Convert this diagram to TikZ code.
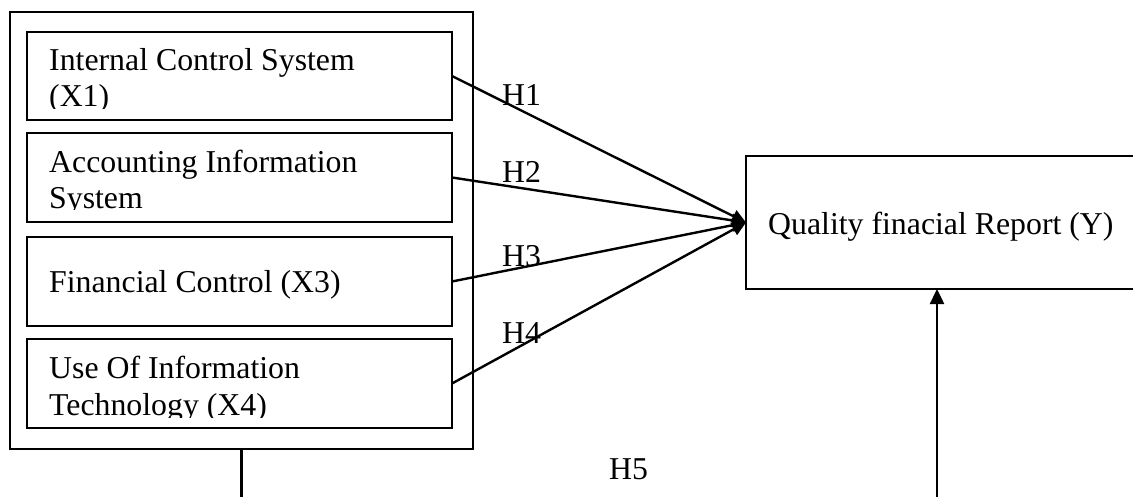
\documentclass[tikz,border=0pt]{standalone}
\usepackage{fontspec}
\setmainfont{Liberation Serif}
\usetikzlibrary{arrows.meta}
\begin{document}
\begin{tikzpicture}[x=1pt,y=-1pt,
  box/.style={draw, line width=2.6pt, inner sep=0pt, outer sep=0pt},
  txt/.style={anchor=base west, inner sep=0pt, font=\fontsize{31.8}{36}\selectfont},
  conn/.style={line width=2.4pt},
  hyp/.style={conn, -{Triangle[length=14pt,width=13pt]}},
  uparrow/.style={conn, -{Triangle[length=15pt,width=14pt]}}]
\useasboundingbox (0,0) rectangle (1133,497);
\clip (0,0) rectangle (1133,497);
% boxes
\node[box, minimum width=463pt, minimum height=437pt] (outer) at (241.5,230.5) {};
\node[box, minimum width=425pt, minimum height=88pt] (b1) at (239.5,76) {};
\node[box, minimum width=425pt, minimum height=89pt] (b2) at (239.5,177.5) {};
\node[box, minimum width=425pt, minimum height=89pt] (b3) at (239.5,281.5) {};
\node[box, minimum width=425pt, minimum height=89pt] (b4) at (239.5,383.5) {};
\node[box, minimum width=434pt, minimum height=133pt] (Y) at (963,222.5) {};
% texts
\begin{scope}
\clip (28,33) rectangle (451,109);
\node[txt] (t1a) at (49,71) {Internal Control System};
\node[txt] (t1b) at (49,107) {(X1)};
\end{scope}
\begin{scope}
\clip (28,134) rectangle (451,210);
\node[txt] (t2a) at (49,173) {Accounting Information};
\node[txt] (t2b) at (49,209) {System};
\end{scope}
\node[txt] (t3) at (49,293) {Financial Control (X3)};
\begin{scope}
\clip (28,340) rectangle (451,417);
\node[txt] (t4a) at (49,378) {Use Of Information};
\node[txt] (t4b) at (49,415) {Technology (X4)};
\end{scope}
\node[txt] (ty) at (768,235) {Quality finacial Report (Y)};
% connectors
\draw[hyp] (b1.east) -- (Y.west);
\draw[hyp] (b2.east) -- (Y.west);
\draw[hyp] (b3.east) -- (Y.west);
\draw[hyp] (b4.east) -- (Y.west);
\coordinate (bot) at (0,500);
\coordinate (d1) at (outer.south |- bot);
\coordinate (d2) at (937,500);
\draw[conn] (outer.south) -- (d1);
\draw[uparrow] (d2) -- (d2 |- Y.south);
% labels
\node[txt] (h1) at (502,106) {H1};
\node[txt] (h2) at (502,183) {H2};
\node[txt] (h3) at (502,267) {H3};
\node[txt] (h4) at (502,343) {H4};
\node[txt] (h5) at (609,479) {H5};
\end{tikzpicture}
\end{document}
